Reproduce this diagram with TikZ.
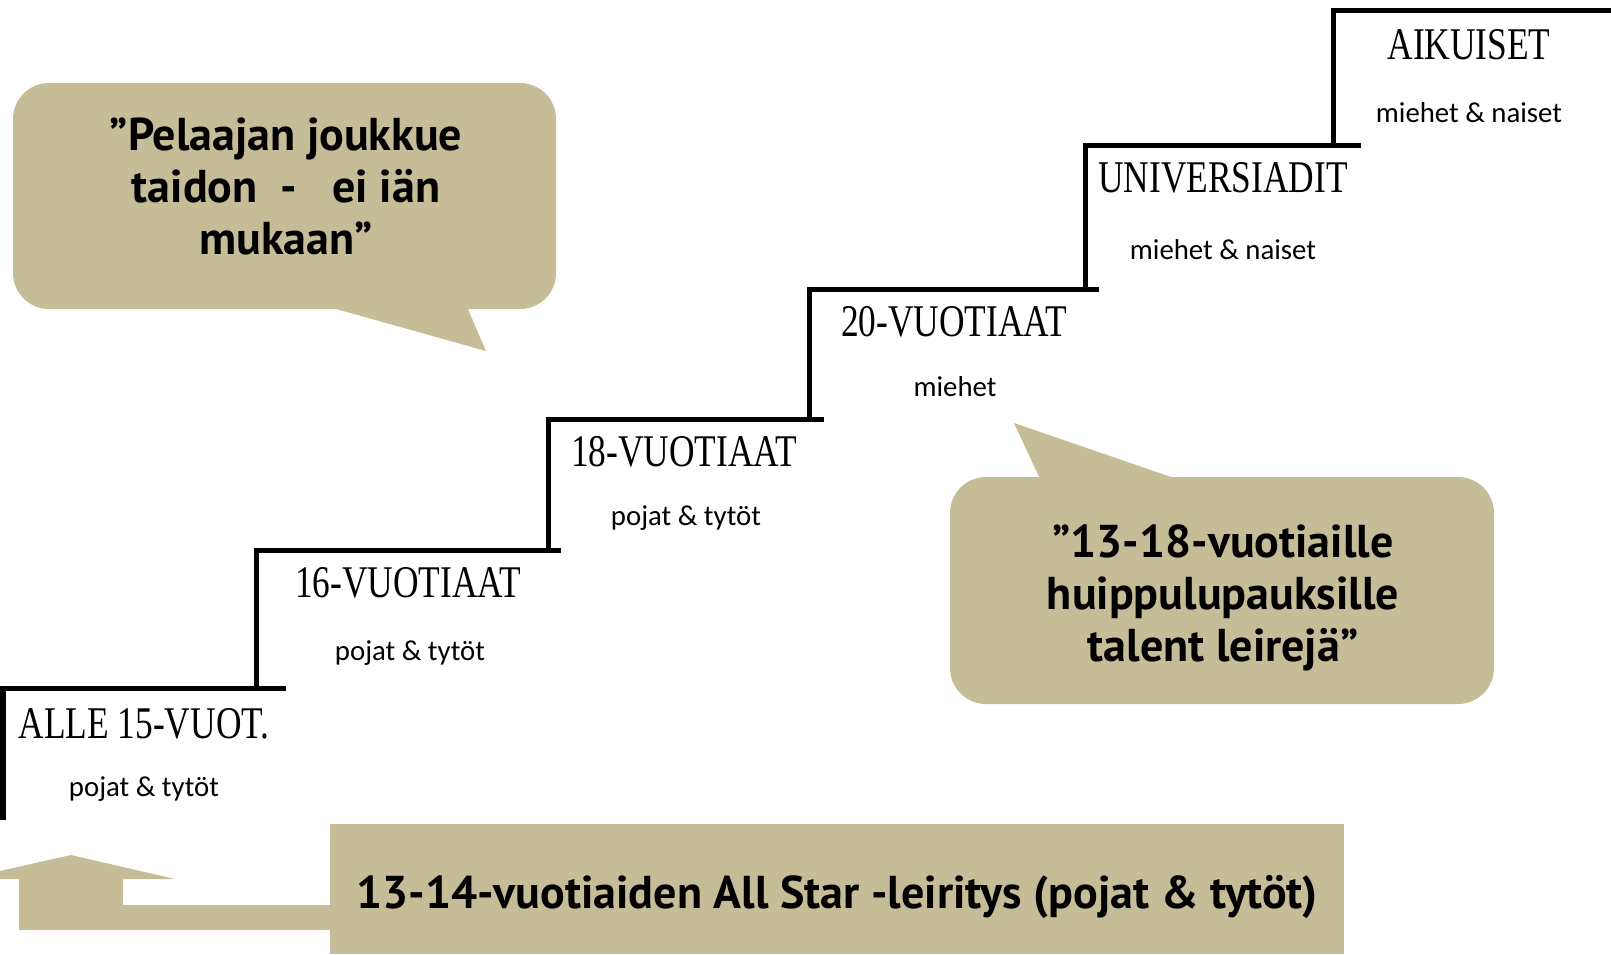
\documentclass[tikz,border=0pt]{standalone}
\usepackage{fontspec}
\usepackage{graphicx}
\usepackage{tikz}
\usepackage{xcolor}

\newfontfamily\stepfont{Liberation Serif}
\newfontfamily\subfont{Carlito}
\newfontfamily\quotefont{PT Sans}
\definecolor{sand}{RGB}{196,189,152}
\newcommand{\narrow}[1]{\scalebox{0.78}[1]{#1}}

\tikzset{
  stair/.style={line width=3.75pt},
  level/.style={inner sep=0pt, font=\stepfont\fontsize{34}{34}\selectfont},
  group/.style={inner sep=0pt, font=\subfont\fontsize{21.6}{24}\selectfont},
  quote/.style={inner sep=0pt, align=center, font=\quotefont\bfseries\fontsize{34.5}{39}\selectfont},
}

\begin{document}
\begin{tikzpicture}[x=0.75pt,y=-0.75pt]
  \useasboundingbox (0,0) rectangle (1611,954);

  % Staircase
  \draw[stair] (3,820) -- (3,688) -- (286,688)
    (256,688) -- (256,550) -- (561,550)
    (548,550) -- (548,419) -- (824,419)
    (809,419) -- (809,289) -- (1099,289)
    (1085,289) -- (1085,145) -- (1361,145)
    (1333,145) -- (1333,10) -- (1611,10);

  % Step labels
  \node[level] (alle) at (144,724) {\narrow{ALLE 15-VUOT.}};
  \node[group] (alleSub) at (144,789) {pojat \& tytöt};
  \node[level] (v16) at (408,583) {\narrow{16-VUOTIAAT}};
  \node[group] (v16Sub) at (410,653) {pojat \& tytöt};
  \node[level] (v18) at (684,452) {\narrow{18-VUOTIAAT}};
  \node[group] (v18Sub) at (686,518) {pojat \& tytöt};
  \node[level] (v20) at (954,322) {\narrow{20-VUOTIAAT}};
  \node[group] (v20Sub) at (955,387) {miehet};
  \node[level] (univ) at (1223,178) {\narrow{UNIVERSIADIT}};
  \node[group] (univSub) at (1223,250) {miehet \& naiset};
  \node[level] (adult) at (1469,45) {\narrow{AIKUISET}};
  \node[group] (adultSub) at (1469,113) {miehet \& naiset};

  % Speech bubble, top left
  \fill[sand, rounded corners=27pt] (13,83) rectangle (556,309);
  \fill[sand] (329,307) -- (486,351) -- (467,307) -- cycle;
  \node[quote] (skill) at (286,186) {”Pelaajan joukkue\\taidon\ \ -\ \ \ ei iän\\mukaan”};

  % Speech bubble, right
  \fill[sand, rounded corners=27pt] (950,477) rectangle (1494,704);
  \fill[sand] (1177,479) -- (1014,423) -- (1040,479) -- cycle;
  \node[quote] (talent) at (1223,598) {”13-18-vuotiaille\\huippulupauksille\\talent leirejä”};

  % Camp box and arrow up to the first step
  \fill[sand] (330,824) rectangle (1344,954);
  \node[quote] (camp) at (837,897) {13-14-vuotiaiden All Star -leiritys (pojat \& tytöt)};
  \fill[sand] (0,879) -- (0,871) -- (71,855) -- (175,879) -- (123,879)
    -- (123,905) -- (331,905) -- (331,930) -- (19,930) -- (19,879) -- cycle;

\end{tikzpicture}
\end{document}
